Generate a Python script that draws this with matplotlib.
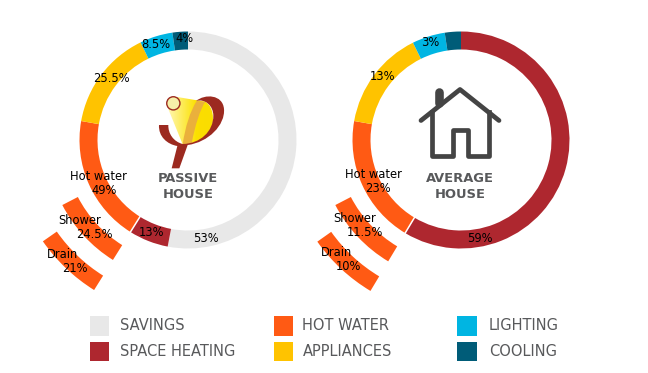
import numpy as np
import matplotlib.pyplot as plt
from matplotlib.patches import Circle, PathPatch, Rectangle
from matplotlib.path import Path

W, H = 648, 373

# ring shares in percent of the circle, clockwise from 12 o'clock
passive_names = ["Savings", "Space heating", "Hot water", "Appliances", "Lighting", "Cooling"]
passive_ring = [53, 5.9, 18.9, 15, 4.9, 2.3]
average_names = ["Space heating", "Hot water", "Appliances", "Lighting", "Cooling"]
average_ring = [58.6, 19.2, 14.9, 4.9, 2.4]

# shower and drain arcs, share of the circle
passive_shower = 8.5
passive_drain = 6.4
average_shower = 8.8
average_drain = 6.6

legend_labels = ["SAVINGS", "SPACE HEATING", "HOT WATER", "APPLIANCES", "LIGHTING", "COOLING"]

colors = {
    "Savings": "#e8e8e8",
    "Space heating": "#ae272f",
    "Hot water": "#ff5a14",
    "Appliances": "#ffc300",
    "Lighting": "#00b5e2",
    "Cooling": "#005c78",
}
GREY = "#58595b"


def py(y):
    return H - y


fig = plt.figure(figsize=(W / 100, H / 100), dpi=100)
ax = fig.add_axes([0, 0, 1, 1])


def ring(values, names, cx):
    ax.pie(values, colors=[colors[n] for n in names], center=(cx, py(140)), radius=108.5,
           startangle=90, counterclock=False, wedgeprops={"width": 18, "linewidth": 0})
    # white gap where hot water starts
    k = names.index("Hot water")
    a = np.radians(sum(values[:k]) * 3.6)
    ax.plot([cx + 89 * np.sin(a), cx + 110 * np.sin(a)], [py(140) + 89 * np.cos(a), py(140) + 110 * np.cos(a)],
            color="white", lw=1.1, zorder=5)
    return sum(values[:k])


def sub_arc(start, share, cx, radius, width):
    ax.pie([start, share, 100 - start - share], colors=["none", colors["Hot water"], "none"],
           center=(cx, py(140)), radius=radius, startangle=90, counterclock=False,
           wedgeprops={"width": width, "linewidth": 0})


s1 = ring(passive_ring, passive_names, 188)
sub_arc(s1, passive_shower, 188, 141.5, 17.5)
sub_arc(s1, passive_drain, 188, 177, 17)
s2 = ring(average_ring, average_names, 461)
sub_arc(s2, average_shower, 461, 141.5, 17.5)
sub_arc(s2, average_drain, 461, 176, 17)

ax.set_xlim(0, W)
ax.set_ylim(0, H)
ax.set_aspect("equal")
ax.axis("off")


def label(x, y, s):
    ax.text(x, py(y), s, ha="center", va="center", fontsize=8.3, color="black", zorder=10)


passive_text = [(185, 39, "4%"), (156, 44, "8.5%"), (111, 78, "25.5%"), (98, 177, "Hot water"),
                (104, 191, "49%"), (80, 221, "Shower"), (94, 235, "24.5%"), (62, 254, "Drain"),
                (75, 268, "21%"), (152, 232, "13%"), (206, 238, "53%")]
average_text = [(430, 43, "3%"), (383, 77, "13%"), (373, 175, "Hot water"), (378, 189, "23%"),
                (355, 219, "Shower"), (365, 233, "11.5%"), (337, 252, "Drain"), (348, 266, "10%"),
                (480, 238, "59%")]
for x, y, s in passive_text + average_text:
    label(x, y, s)

for x, y, s in [(188, 178.5, "PASSIVE"), (188, 194, "HOUSE"), (460, 178.5, "AVERAGE"), (460, 194, "HOUSE")]:
    ax.text(x, py(y), s, ha="center", va="center", fontsize=9.4, fontweight="bold", color=GREY)

# legend
swatch_x = [89.5, 89.5, 273.5, 273.5, 457, 457]
swatch_y = [316, 341.5, 316, 341.5, 316, 341.5]
text_x = [120, 120, 302.5, 302.5, 489, 489]
legend_colors = [colors["Savings"], colors["Space heating"], colors["Hot water"],
                 colors["Appliances"], colors["Lighting"], colors["Cooling"]]
for sx, sy, tx, c, s in zip(swatch_x, swatch_y, text_x, legend_colors, legend_labels):
    ax.add_patch(Rectangle((sx, py(sy + 19.5)), 19.5, 19.5, color=c, lw=0))
    ax.text(tx, py(sy + 10), s, ha="left", va="center", fontsize=10.5, color=GREY)

# house icon
hc = "#444444"
ax.plot([421, 460, 499], [py(120.5), py(89.5), py(120.5)], color=hc, lw=3.4, solid_capstyle="round",
        solid_joinstyle="round", zorder=4)
ax.plot([431.5, 431.5, 452.5, 452.5, 468, 468, 488.5, 488.5], [py(112), py(156), py(156), py(130), py(130), py(156), py(156), py(112)],
        color=hc, lw=3.4, solid_joinstyle="round", zorder=4)
ax.plot([439, 439], [py(92), py(103)], color=hc, lw=6.2, solid_capstyle="round", zorder=4)


# passive house logo, zoomed crop coordinates
def lp(x, y):
    return 140 + x / 3, py(85 + y / 3)


def bez(points, codes, **kw):
    p = Path([lp(*q) for q in points], codes)
    patch = PathPatch(p, lw=0, **kw)
    ax.add_patch(patch)
    return patch


M, L, C, Z = Path.MOVETO, Path.LINETO, Path.CURVE4, Path.CLOSEPOLY
cone = bez([(112, 36), (195, 50), (215, 60), (222, 90), (218, 115), (205, 160), (165, 178), (128, 178), (84, 70), (112, 36)],
           [M, L, C, C, C, C, C, C, L, Z], facecolor="none", zorder=3)
grad = np.linspace(0, 1, 256).reshape(1, -1)
rgba = np.zeros((1, 256, 4))
rgba[..., 0] = 1.0 - 0.02 * grad
rgba[..., 1] = 0.97 - 0.10 * np.clip(grad * 1.4, 0, 1)
rgba[..., 2] = 0.72 * (1 - np.clip(grad * 1.6, 0, 1))
rgba[..., 3] = 1
x0 = lp(82, 0)[0]
x1 = lp(222, 0)[0]
im = ax.imshow(rgba, extent=(x0, x1, py(150), py(92)), aspect="auto", zorder=3, interpolation="bilinear")
im.set_clip_path(cone)
ax.set_xlim(0, W)
ax.set_ylim(0, H)

bez([(170, 48), (196, 50), (182, 70), (165, 120), (155, 176), (128, 178), (136, 125), (150, 80), (170, 48), (170, 48)],
    [M, L, C, C, C, L, C, C, C, Z], facecolor="#eab03c", zorder=4)

# red swirl with stem and left hook
bez([(168, 48), (195, 26), (248, 28), (252, 72), (256, 120), (205, 172), (143, 180),
     (118, 250), (95, 250), (112, 183),
     (82, 178), (55, 155), (57, 120), (85, 120),
     (84, 145), (100, 170), (128, 177), (180, 176), (220, 140), (220, 92), (220, 62), (195, 40), (168, 48), (168, 48)],
    [M, C, C, C, C, C, C,
     L, L, L,
     C, C, C, L,
     C, C, C, C, C, C, C, C, C, Z], facecolor="#9c2a20", zorder=5)

ax.add_patch(Circle(lp(100, 55), 6.6, facecolor="#f6f0aa", edgecolor="#9c2a20", lw=1, zorder=6))

fig.savefig("out.png", dpi=100)
